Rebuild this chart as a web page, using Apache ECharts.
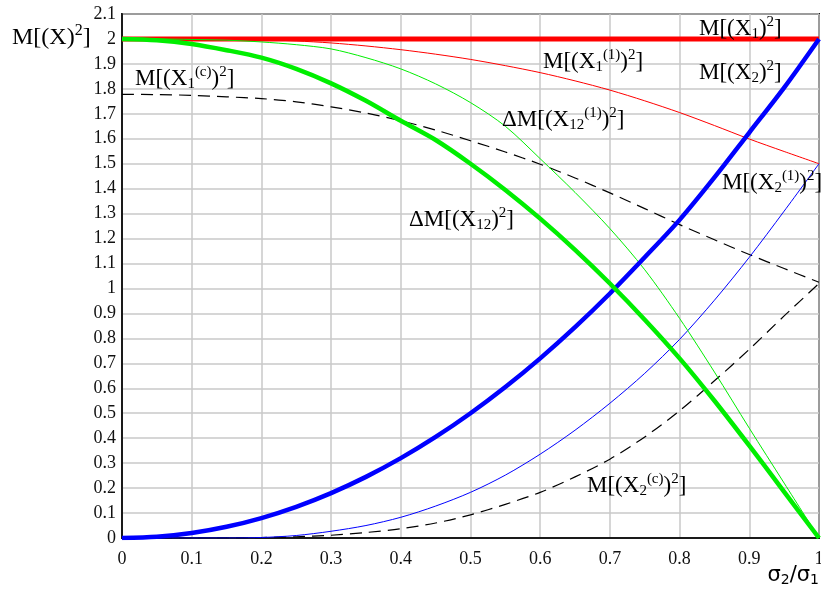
<!DOCTYPE html>
<html><head><meta charset="utf-8">
<script src="https://cdn.jsdelivr.net/npm/echarts@6/dist/echarts.min.js"></script>
<style>html,body{margin:0;padding:0;background:#fff;}#c{width:821px;height:593px;}</style>
</head><body><div id="c"></div>
<script>
// sigma2/sigma1 sample points
const xValues = [0,0.05,0.1,0.15,0.2,0.25,0.3,0.35,0.4,0.45,0.5,0.55,0.6,0.65,0.7,0.75,0.8,0.85,0.9,0.95,1.0];
// M[(X1)^2]
const mX1 = [2,2,2,2,2,2,2,2,2,2,2,2,2,2,2,2,2,2,2,2,2];
// M[(X1^(1))^2]
const mX1p1 = [2,2,2.0,1.999,1.997,1.992,1.984,1.972,1.957,1.939,1.918,1.893,1.865,1.832,1.795,1.752,1.705,1.653,1.599,1.549,1.5];
// M[(X1^(c))^2]
const mX1c = [1.778,1.777,1.774,1.768,1.761,1.748,1.728,1.703,1.672,1.635,1.592,1.547,1.498,1.443,1.383,1.32,1.256,1.195,1.136,1.08,1.025];
// M[(X2^(1))^2]
const mX2p1 = [0,0,0,0,0.002,0.01,0.027,0.05,0.083,0.128,0.183,0.252,0.336,0.432,0.54,0.66,0.796,0.953,1.125,1.31,1.5];
// M[(X2^(c))^2]
const mX2c = [0,0,0,0,0.002,0.005,0.011,0.022,0.037,0.06,0.093,0.135,0.183,0.245,0.316,0.405,0.51,0.63,0.756,0.89,1.02];
// dM[(X12^(1))^2]
const dX12p1 = [2.0,2.0,1.998,1.995,1.988,1.977,1.96,1.925,1.88,1.82,1.745,1.65,1.52,1.385,1.24,1.075,0.88,0.665,0.44,0.22,0.0];
// M[(X2)^2]
const mX2 = [0,0.005,0.02,0.045,0.08,0.125,0.18,0.245,0.32,0.405,0.5,0.605,0.72,0.845,0.98,1.125,1.275,1.445,1.625,1.805,2.0];
// dM[(X12)^2]
const dX12 = [2.0,1.995,1.98,1.955,1.925,1.88,1.822,1.752,1.672,1.595,1.5,1.395,1.28,1.155,1.02,0.875,0.72,0.55,0.37,0.185,0.0];

const xTickLabels = ['0','0.1','0.2','0.3','0.4','0.5','0.6','0.7','0.8','0.9','1'];
const yTickLabels = ['0','0.1','0.2','0.3','0.4','0.5','0.6','0.7','0.8','0.9','1','1.1','1.2','1.3','1.4','1.5','1.6','1.7','1.8','1.9','2','2.1'];

const SERIF = 'Liberation Serif';
const RICH = {
  n:   {fontSize: 23, fontFamily: SERIF, color: '#000', lineHeight: 30, verticalAlign: 'middle'},
  sub: {fontSize: 15, fontFamily: SERIF, color: '#000', verticalAlign: 'bottom', padding: [0,0,2,0]},
  sup: {fontSize: 15, fontFamily: SERIF, color: '#000', verticalAlign: 'top', padding: [1,0,0,0]}
};
const RICH_Y = {
  n:   {fontSize: 24, fontFamily: SERIF, color: '#000', lineHeight: 30, verticalAlign: 'middle'},
  sup: {fontSize: 16, fontFamily: SERIF, color: '#000', verticalAlign: 'top', padding: [0,0,0,0]}
};
const RICH_S = {
  n:   {fontSize: 21, fontFamily: 'DejaVu Sans', color: '#000', lineHeight: 30, verticalAlign: 'middle'},
  sub: {fontSize: 14, fontFamily: 'DejaVu Sans', color: '#000', verticalAlign: 'bottom', padding: [0,0,3,0]}
};

const annotations = [
  {text: '{n|M[(X}{sub|1}{n|)}{sup|2}{n|]}', left: 699, top: 15},
  {text: '{n|M[(X}{sub|1}{sup|(1)}{n|)}{sup|2}{n|]}', left: 543, top: 48},
  {text: '{n|M[(X}{sub|2}{n|)}{sup|2}{n|]}', left: 699, top: 59},
  {text: '{n|ΔM[(X}{sub|12}{sup|(1)}{n|)}{sup|2}{n|]}', left: 502, top: 106},
  {text: '{n|M[(X}{sub|2}{sup|(1)}{n|)}{sup|2}{n|]}', left: 722, top: 169},
  {text: '{n|ΔM[(X}{sub|12}{n|)}{sup|2}{n|]}', left: 409, top: 206},
  {text: '{n|M[(X}{sub|1}{sup|(c)}{n|)}{sup|2}{n|]}', left: 135, top: 65},
  {text: '{n|M[(X}{sub|2}{sup|(c)}{n|)}{sup|2}{n|]}', left: 587, top: 472}
];

function pts(ys){ return xValues.map((x,i)=>[x, ys[i]]); }
function line(data, color, width, dashed){
  return {type:'line', data: pts(data), showSymbol:false, smooth:0.3, silent:true,
    lineStyle:{color, width, type: dashed ? [12,7] : 'solid', cap:'butt', join:'round'}};
}

const chart = echarts.init(document.getElementById('c'), null, {renderer:'canvas'});
const graphics = annotations.map(a => ({type:'text', left:a.left, top:a.top, z:100,
  style:{text:a.text, rich:RICH, fill:'#000'}}));
graphics.push({type:'text', left:12, top:23, z:100,
  style:{text:'{n|M[(X)}{sup|2}{n|]}', rich:RICH_Y, fill:'#000'}});
graphics.push({type:'text', right:2, top:565, z:100,
  style:{text:'{n|σ}{sub|2}{n|/σ}{sub|1}', rich:RICH_S, fill:'#000'}});

chart.setOption({
  animation:false,
  backgroundColor:'#fff',
  grid:{left:122, right:2, top:14, bottom:55, show:true, borderColor:'#1a1a1a', borderWidth:2,
    containLabel:false, outerBoundsMode:'none'},
  xAxis:{type:'value', min:0, max:1, interval:0.1,
    axisLine:{show:true, onZero:false, lineStyle:{color:'#1a1a1a', width:2}},
    axisTick:{show:false},
    splitLine:{show:true, lineStyle:{color:'#c8c8c8', width:1.5}},
    axisLabel:{fontFamily:SERIF, fontSize:18, color:'#111', margin:12, showMaxLabel:true,
      formatter: v => xTickLabels[Math.round(v*10)]}},
  yAxis:{type:'value', min:0, max:2.1, interval:0.1,
    axisLine:{show:true, onZero:false, lineStyle:{color:'#1a1a1a', width:2}},
    axisTick:{show:false},
    splitLine:{show:true, lineStyle:{color:'#c8c8c8', width:1.5}},
    axisLabel:{fontFamily:SERIF, fontSize:18, color:'#111', margin:6, showMaxLabel:true,
      formatter: v => yTickLabels[Math.round(v*10)]}},
  series:[
    line(mX1, '#ff0000', 5),
    line(mX1p1, '#ff0000', 1),
    line(mX1c, '#000000', 1.2, true),
    line(mX2c, '#000000', 1.2, true),
    line(mX2p1, '#0000ff', 1),
    line(dX12p1, '#00ee00', 1),
    line(mX2, '#0000ff', 4.5),
    line(dX12, '#00ee00', 4.5)
  ],
  graphic: graphics
});
</script>
</body></html>
